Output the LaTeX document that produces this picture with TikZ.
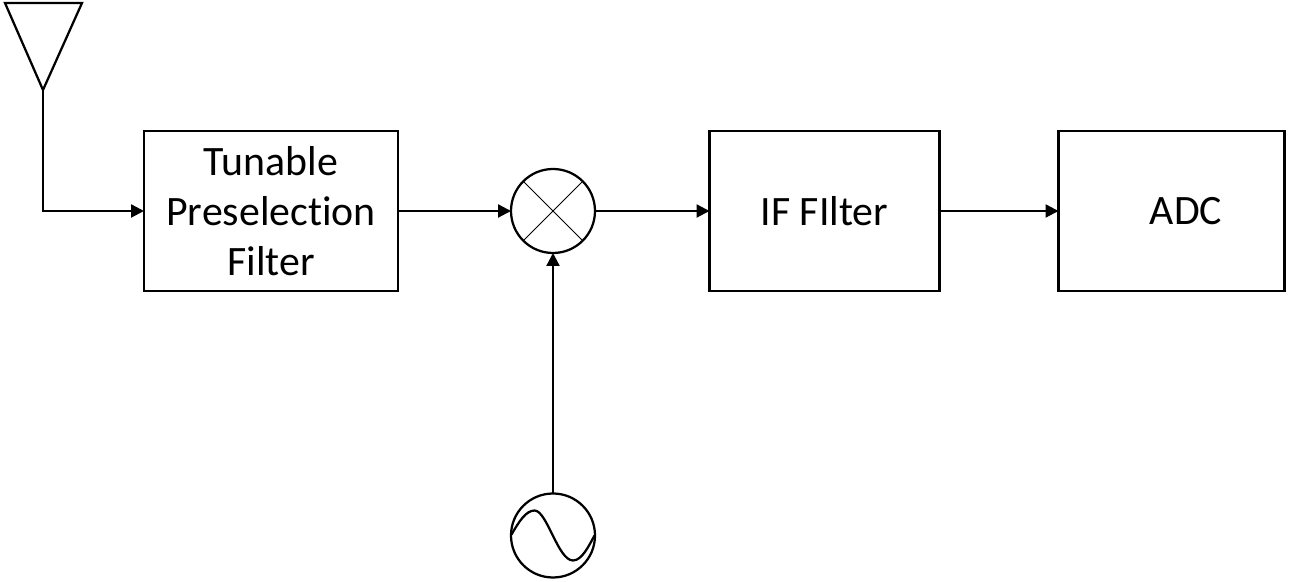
\documentclass[tikz,border=0pt]{standalone}
\usepackage{fontspec}
\setmainfont[Ligatures=NoCommon]{Carlito}
\usetikzlibrary{arrows.meta,positioning}
\begin{document}
\begin{tikzpicture}[
box/.style={draw,line width=0.045cm,align=center,minimum height=3.2cm,inner sep=0pt,outer sep=0pt,font=\fontsize{23.8}{28.45}\selectfont},
round/.style={draw,circle,line width=0.045cm,minimum size=1.68cm,inner sep=0pt,outer sep=0pt},
arrow/.style={-{Triangle[length=0.26cm,width=0.26cm]},line width=0.045cm},
thinline/.style={line width=0.02cm}
]
\useasboundingbox (0,0) rectangle (26.28,11.64);
% signal chain
\node[box,minimum width=5.08cm] (filter) at (5.42,7.42) {Tunable\\Preselection\\Filter};
\node[round,right=2.26cm of filter] (mixer) {};
\node[box,minimum width=4.6cm,right=2.29cm of mixer] (iffilter) {IF FIlter};
\node[box,minimum width=4.52cm,right=2.38cm of iffilter] (adc) {\hspace*{0.58cm}ADC};
\node[round,below=4.81cm of mixer] (osc) {};
% antenna
\coordinate (antenna) at (0.86,9.84);
\draw[line width=0.045cm,line join=miter] (antenna) -- (0.1,11.58) -- (1.64,11.58) -- cycle;
% mixer cross
\draw[thinline] (mixer.45) -- (mixer.225);
\draw[thinline] (mixer.135) -- (mixer.315);
% sine wave
\draw[line width=0.045cm,shift={(osc.center)}] (-0.83,0.02) .. controls (-0.68,0.28) and (-0.54,0.5) .. (-0.37,0.5)
  .. controls (-0.12,0.5) and (0.1,-0.5) .. (0.4,-0.5) .. controls (0.58,-0.5) and (0.72,-0.2) .. (0.83,0);
% connectors
\draw[arrow] (antenna) |- (filter);
\draw[arrow] (filter) -- (mixer);
\draw[arrow] (mixer) -- (iffilter);
\draw[arrow] (iffilter) -- (adc);
\draw[arrow] (osc) -- (mixer);
\end{tikzpicture}
\end{document}
